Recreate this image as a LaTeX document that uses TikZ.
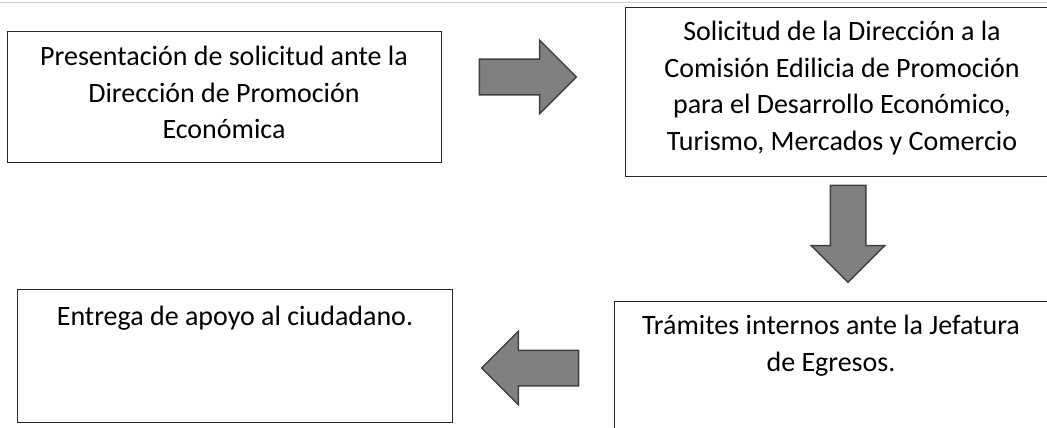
\documentclass[tikz,border=0pt]{standalone}
\usepackage{fontspec}
\setmainfont{Carlito}
\usetikzlibrary{shapes.arrows}
\begin{document}
\begin{tikzpicture}[x=1pt,y=-1pt,
    caja/.style={draw=black!85,line width=1.4pt,anchor=north west,inner sep=0pt},
    texto/.style={font=\fontsize{28}{36.6}\selectfont,align=center,anchor=north,inner sep=0pt},
    flecha/.style={single arrow,draw=black!75,fill=black!50,line width=1.5pt,inner xsep=0pt,inner ysep=17pt,
      minimum height=97pt,single arrow head extend=19pt,single arrow head indent=0pt}]
  \useasboundingbox (0,0) rectangle (1047,428);
  \draw[black!20,line width=1pt] (0,3) -- (1047,3);

  \node[caja,minimum width=434pt,minimum height=131pt] (presentacion) at (7,31) {};
  \node[texto] (tpresentacion) at (224,46) {Presentación de solicitud ante la\\Dirección de Promoción\\Económica};

  \node[caja,minimum width=440pt,minimum height=169pt] (comision) at (625,7) {};
  \node[texto] (tcomision) at (842,21) {Solicitud de la Dirección a la\\Comisión Edilicia de Promoción\\para el Desarrollo Económico,\\Turismo, Mercados y Comercio};

  \node[caja,minimum width=450pt,minimum height=160pt] (egresos) at (614,301) {};
  \node[texto] (tegresos) at (831,315) {Trámites internos ante la Jefatura\\de Egresos.};

  \node[caja,minimum width=435pt,minimum height=133pt] (entrega) at (17,289) {};
  \node[texto] (tentrega) at (235,306) {Entrega de apoyo al ciudadano.};

  \node[flecha] (f1) at (519,77) {};
  \node[flecha,rotate=-90] (f2) at (848,225) {};
  \node[flecha,rotate=180] (f3) at (539,368) {};
\end{tikzpicture}
\end{document}
